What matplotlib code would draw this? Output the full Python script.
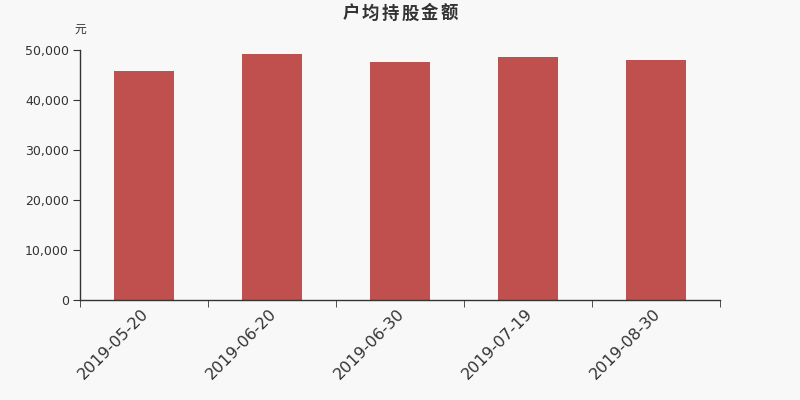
import matplotlib
matplotlib.use("Agg")
import matplotlib.pyplot as plt
import matplotlib.transforms as mtransforms
import numpy as np

plt.rcParams['font.family'] = ['Noto Sans CJK SC', 'DejaVu Sans']

categories = ["2019-05-20", "2019-06-20", "2019-06-30", "2019-07-19", "2019-08-30"]
values = [45800, 49200, 47700, 48550, 48000]
yticks = [0, 10000, 20000, 30000, 40000, 50000]
ytick_labels = ["0", "10,000", "20,000", "30,000", "40,000", "50,000"]
title = "户均持股金额"
unit = "元"

bg = "#f8f8f8"
fig = plt.figure(figsize=(8, 4), dpi=100, facecolor=bg)
ax = fig.add_axes([0.1, 0.25, 0.8, 0.625], facecolor=bg)

x = np.arange(len(categories))
ax.bar(x, values, width=60/128, color="#c0504d", zorder=2)
ax.set_xlim(-0.5, len(categories) - 0.5)
ax.set_ylim(0, 50000)
ax.set_yticks(yticks)
ax.set_yticklabels(ytick_labels, fontsize=9, color="#333333", family=['DejaVu Sans'])
ax.set_xticks(x)
ax.set_xticklabels(categories, rotation=45, ha="right", rotation_mode="anchor",
                   fontsize=11.5, color="#333333", family=['DejaVu Sans'])
ax.tick_params(axis='x', length=0, pad=5)
offset = mtransforms.ScaledTranslation(-3 / 100, 1 / 100, fig.dpi_scale_trans)
for lbl in ax.get_xticklabels():
    lbl.set_transform(lbl.get_transform() + offset)
ax.set_xticks(np.arange(-0.5, len(categories)), minor=True)
ax.tick_params(axis='x', which='minor', length=5, color="#333333")
ax.tick_params(axis='y', length=5, color="#333333", pad=3)
for s in ["top", "right"]:
    ax.spines[s].set_visible(False)
for s in ["left", "bottom"]:
    ax.spines[s].set_color("#333333")
    ax.spines[s].set_linewidth(1)

# title with letter spacing
pitch = 19.6
n = len(title)
for i, ch in enumerate(title):
    cx = 400 + (i - (n - 1) / 2) * pitch
    fig.text(cx / 800, 1 - 13.5 / 400, ch, ha="center", va="center",
             fontsize=12.5, fontweight="bold", color="#333333")
fig.text(0.1, 1 - 29 / 400, unit, ha="center", va="center", fontsize=8.5, color="#333333")

fig.savefig("out.png", dpi=100, facecolor=bg)
